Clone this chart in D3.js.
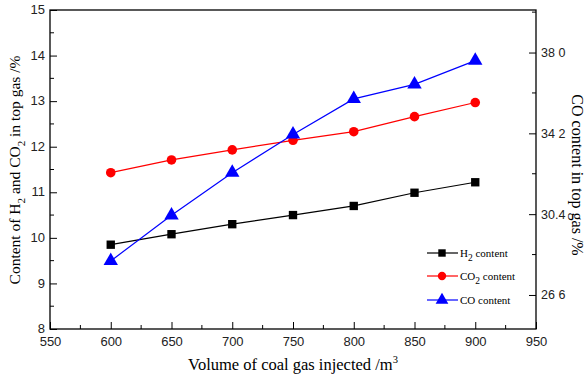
<!DOCTYPE html>
<html><head><meta charset="utf-8">
<script src="https://cdn.jsdelivr.net/npm/d3@7"></script>
<style>body{margin:0;background:#fff}svg{display:block}</style>
</head><body>
<svg id="c" width="587" height="377"></svg>
<script>
const volumes = [600, 650, 700, 750, 800, 850, 900];
const h2Content = [9.85, 10.08, 10.3, 10.5, 10.7, 10.99, 11.22];
const co2Content = [11.43, 11.71, 11.93, 12.14, 12.33, 12.66, 12.97];
const coContent = [28.2, 30.35, 32.35, 34.15, 35.82, 36.5, 37.62];
const xTicks = [550, 600, 650, 700, 750, 800, 850, 900, 950];
const yLeftTicks = [8, 9, 10, 11, 12, 13, 14, 15];
const yRightTicks = [26.6, 30.4, 34.2, 38.0];
const yRightTickLabels = ["26 6", "30.4", "34 2", "38 0"];

const svg = d3.select("#c");
const L = 50, R = 536, T = 10, B = 329;
const x = d3.scaleLinear().domain([550, 950]).range([L, R]);
const yL = d3.scaleLinear().domain([8, 15]).range([B, T]);
const yR = d3.scaleLinear().domain([25, 40]).range([B, T]);

const tickFont = "Liberation Sans, Arial, sans-serif";
const serif = "Liberation Serif, Times New Roman, serif";

// frame
svg.append("rect").attr("x", L).attr("y", T).attr("width", R - L).attr("height", B - T)
  .attr("fill", "none").attr("stroke", "#000").attr("stroke-width", 1.3);

// bottom axis
const gx = svg.append("g").attr("transform", `translate(0,${B})`)
  .call(d3.axisBottom(x).tickValues(xTicks).tickSizeInner(-7).tickSizeOuter(0).tickPadding(8).tickFormat(d3.format("d")));
gx.select(".domain").remove();
gx.selectAll("text").attr("font-family", tickFont).attr("font-size", 13).attr("fill", "#222");
const xMinor = d3.range(575, 950, 50);
svg.append("g").selectAll("line").data(xMinor).join("line")
  .attr("x1", d => x(d)).attr("x2", d => x(d)).attr("y1", B).attr("y2", B - 4).attr("stroke", "#000");

// left axis
const gl = svg.append("g").attr("transform", `translate(${L},0)`)
  .call(d3.axisLeft(yL).tickValues(yLeftTicks).tickSizeInner(-7).tickSizeOuter(0).tickPadding(5).tickFormat(d3.format("d")));
gl.select(".domain").remove();
gl.selectAll("text").attr("font-family", tickFont).attr("font-size", 13).attr("fill", "#222").attr("dy", "0.28em");
svg.append("g").selectAll("line").data(d3.range(8.5, 15, 1)).join("line")
  .attr("x1", L).attr("x2", L + 4).attr("y1", d => yL(d)).attr("y2", d => yL(d)).attr("stroke", "#000");

// right axis
const gr = svg.append("g").attr("transform", `translate(${R},0)`)
  .call(d3.axisRight(yR).tickValues(yRightTicks).tickSizeInner(-7).tickSizeOuter(0).tickPadding(5)
    .tickFormat((d, i) => yRightTickLabels[i]));
gr.select(".domain").remove();
gr.selectAll("text").attr("font-family", tickFont).attr("font-size", 12.5).attr("fill", "#222");
const rMinor = [28.5, 32.3, 36.1, 39.9];
svg.append("g").selectAll("line").data(rMinor).join("line")
  .attr("x1", R).attr("x2", R - 4).attr("y1", d => yR(d)).attr("y2", d => yR(d)).attr("stroke", "#000");
gx.selectAll("line").attr("stroke", "#000");
gl.selectAll("line").attr("stroke", "#000");
gr.selectAll("line").attr("stroke", "#000");

// series
const series = [
  {vals: h2Content, y: yL, color: "#000", sym: d3.symbolSquare, size: 70},
  {vals: co2Content, y: yL, color: "#ff0000", sym: d3.symbolCircle, size: 72},
  {vals: coContent, y: yR, color: "#0000ff", sym: d3.symbolTriangle, size: 90}
];
series.forEach(s => {
  const pts = volumes.map((v, i) => [x(v), s.y(s.vals[i])]);
  svg.append("path").attr("d", d3.line()(pts)).attr("fill", "none")
    .attr("stroke", s.color).attr("stroke-width", 1.2);
  svg.append("g").selectAll("path").data(pts).join("path")
    .attr("transform", d => `translate(${d[0]},${d[1]})`)
    .attr("d", d3.symbol().type(s.sym).size(s.size)).attr("fill", s.color);
});

// legend
const legend = [
  {color: "#000", sym: d3.symbolSquare, size: 55, main: "H", sub: "2", rest: " content"},
  {color: "#ff0000", sym: d3.symbolCircle, size: 55, main: "CO", sub: "2", rest: " content"},
  {color: "#0000ff", sym: d3.symbolTriangle, size: 70, main: "CO content", sub: "", rest: ""}
];
const ly = [253, 276, 300];
legend.forEach((d, i) => {
  const g = svg.append("g").attr("transform", `translate(0,${ly[i]})`);
  g.append("line").attr("x1", 427).attr("x2", 458).attr("y1", 0).attr("y2", 0).attr("stroke", d.color).attr("stroke-width", 1.2);
  g.append("path").attr("transform", "translate(442,0)").attr("d", d3.symbol().type(d.sym).size(d.size)).attr("fill", d.color);
  const t = g.append("text").attr("x", 460).attr("y", 4).attr("font-family", serif).attr("font-size", 11).attr("fill", "#000");
  t.append("tspan").text(d.main);
  if (d.sub) t.append("tspan").attr("dy", 4).attr("font-size", 9.5).text(d.sub);
  if (d.rest) t.append("tspan").attr("dy", -4).text(d.rest);
});

// axis titles
const xt = svg.append("text").attr("x", 293).attr("y", 370).attr("text-anchor", "middle")
  .attr("font-family", serif).attr("font-size", 16.5).attr("fill", "#000");
xt.append("tspan").text("Volume of coal gas injected /m");
xt.append("tspan").attr("dy", -7).attr("font-size", 10.5).text("3");

const ylt = svg.append("text").attr("transform", "translate(20,170) rotate(-90)").attr("text-anchor", "middle")
  .attr("font-family", serif).attr("font-size", 15.5).attr("fill", "#000");
ylt.append("tspan").text("Content of H");
ylt.append("tspan").attr("dy", 5).attr("font-size", 11).text("2");
ylt.append("tspan").attr("dy", -5).text(" and CO");
ylt.append("tspan").attr("dy", 5).attr("font-size", 11).text("2");
ylt.append("tspan").attr("dy", -5).text(" in top gas /%");

svg.append("text").attr("transform", "translate(572,175) rotate(90)").attr("text-anchor", "middle")
  .attr("font-family", serif).attr("font-size", 16).attr("fill", "#000").text("CO content in top gas /%");
</script>
</body></html>
